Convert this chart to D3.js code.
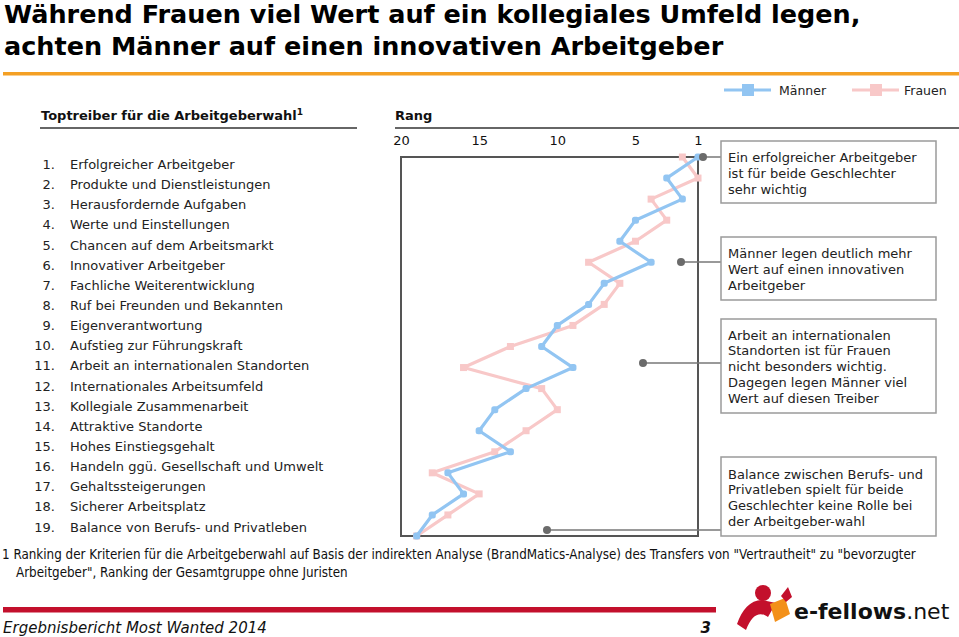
<!DOCTYPE html>
<html>
<head>
<meta charset="utf-8">
<script src="https://cdnjs.cloudflare.com/ajax/libs/d3/7.8.5/d3.min.js"></script>
<style>
  body { margin: 0; background: #fff; }
  svg { display: block; font-family: "DejaVu Sans", Verdana, sans-serif; }
</style>
</head>
<body>
<script>
// Kriterien (Gesamtranking)
var drivers = [
  "Erfolgreicher Arbeitgeber", "Produkte und Dienstleistungen", "Herausfordernde Aufgaben",
  "Werte und Einstellungen", "Chancen auf dem Arbeitsmarkt", "Innovativer Arbeitgeber",
  "Fachliche Weiterentwicklung", "Ruf bei Freunden und Bekannten", "Eigenverantwortung",
  "Aufstieg zur Führungskraft", "Arbeit an internationalen Standorten", "Internationales Arbeitsumfeld",
  "Kollegiale Zusammenarbeit", "Attraktive Standorte", "Hohes Einstiegsgehalt",
  "Handeln ggü. Gesellschaft und Umwelt", "Gehaltssteigerungen", "Sicherer Arbeitsplatz",
  "Balance von Berufs- und Privatleben"
];

// Rang je Geschlecht
var rankMaenner = [1, 3, 2, 5, 6, 4, 7, 8, 10, 11, 9, 12, 14, 15, 13, 17, 16, 18, 19];
var rankFrauen  = [2, 1, 4, 3, 5, 8, 6, 7, 9, 13, 16, 11, 10, 12, 14, 18, 15, 17, 19];

var rankTicks = [20, 15, 10, 5, 1];

var seriesNames = ["Männer", "Frauen"];

// Kommentare
var notes = [
  ["Ein erfolgreicher Arbeitgeber", "ist für beide Geschlechter", "sehr wichtig"],
  ["Männer legen deutlich mehr", "Wert auf einen innovativen", "Arbeitgeber"],
  ["Arbeit an internationalen", "Standorten ist für Frauen", "nicht besonders wichtig.", "Dagegen legen Männer viel", "Wert auf diesen Treiber"],
  ["Balance zwischen Berufs- und", "Privatleben spielt für beide", "Geschlechter keine Rolle bei", "der Arbeitgeber-wahl"]
];

var footnote = [
  "1 Ranking der Kriterien für die Arbeitgeberwahl auf Basis der indirekten Analyse (BrandMatics-Analyse) des Transfers von \"Vertrautheit\" zu \"bevorzugter",
  "Arbeitgeber\", Ranking der Gesamtgruppe ohne Juristen"
];

var width = 959,
    height = 637;

var colMaenner = "#92c5f2",
    colFrauen = "#f8c8c8";

var svg = d3.select("body")
    .append("svg")
    .attr("width", width)
    .attr("height", height);

// Titel
svg.append("text")
    .attr("x", 4).attr("y", 23)
    .attr("font-size", 25.5).attr("font-weight", "bold").attr("fill", "#000")
    .text("Während Frauen viel Wert auf ein kollegiales Umfeld legen,");
svg.append("text")
    .attr("x", 4).attr("y", 55)
    .attr("font-size", 25.5).attr("font-weight", "bold").attr("fill", "#000")
    .text("achten Männer auf einen innovativen Arbeitgeber");

svg.append("rect")
    .attr("x", 3).attr("y", 72).attr("width", width - 3).attr("height", 3.5)
    .attr("fill", "#f4a024");

// Legende
var legend = svg.append("g").attr("class", "legend");
var legendPos = [[724, 779], [852, 904]];
seriesNames.forEach(function(name, i) {
    var c = i == 0 ? colMaenner : colFrauen;
    var p = legendPos[i];
    legend.append("line")
        .attr("x1", p[0]).attr("x2", p[0] + 47)
        .attr("y1", 90).attr("y2", 90)
        .attr("stroke", c).attr("stroke-width", 3);
    legend.append("rect")
        .attr("x", p[0] + 18).attr("y", 84).attr("width", 12).attr("height", 12)
        .attr("fill", c);
    legend.append("text")
        .attr("x", p[1]).attr("y", 95)
        .attr("font-size", 12.5).attr("fill", "#222")
        .text(name);
});

// Spaltenkoepfe
var head = svg.append("text")
    .attr("x", 41).attr("y", 120)
    .attr("font-size", 13).attr("font-weight", "bold").attr("fill", "#111")
    .text("Toptreiber für die Arbeitgeberwahl");
head.append("tspan")
    .attr("font-size", 9).attr("dy", -5).text("1");
svg.append("line")
    .attr("x1", 40).attr("x2", 357).attr("y1", 128).attr("y2", 128)
    .attr("stroke", "#666").attr("stroke-width", 2);

svg.append("text")
    .attr("x", 395).attr("y", 120)
    .attr("font-size", 13).attr("font-weight", "bold").attr("fill", "#111")
    .text("Rang");
svg.append("line")
    .attr("x1", 395).attr("x2", width).attr("y1", 128).attr("y2", 128)
    .attr("stroke", "#666").attr("stroke-width", 2);

// Liste der Treiber
var listY = d3.scalePoint()
    .domain(d3.range(drivers.length))
    .range([169, 531.5]);

var list = svg.append("g").attr("font-size", 13).attr("fill", "#222");
list.selectAll("text.num")
    .data(drivers)
    .enter().append("text")
        .attr("class", "num")
        .attr("x", 55)
        .attr("y", function(d, i) { return listY(i); })
        .attr("text-anchor", "end")
        .text(function(d, i) { return (i + 1) + "."; });
list.selectAll("text.lab")
    .data(drivers)
    .enter().append("text")
        .attr("class", "lab")
        .attr("x", 70)
        .attr("y", function(d, i) { return listY(i); })
        .text(function(d) { return d; });

// Rang-Diagramm
var x = d3.scaleLinear()
    .domain([20, 1])
    .range([401, 698]);

var y = d3.scalePoint()
    .domain(d3.range(drivers.length))
    .range([157, 536]);

svg.append("g")
    .attr("transform", "translate(0,148)")
    .call(d3.axisTop(x).tickValues(rankTicks).tickSize(0).tickFormat(d3.format("d")))
    .call(function(g) { g.select(".domain").remove(); })
    .selectAll("text")
        .attr("font-family", "DejaVu Sans, Verdana, sans-serif")
        .attr("font-size", 13)
        .attr("fill", "#111")
        .attr("dy", 0);

svg.append("rect")
    .attr("x", x(20)).attr("y", y(0))
    .attr("width", x(1) - x(20)).attr("height", y(drivers.length - 1) - y(0))
    .attr("fill", "none").attr("stroke", "#555").attr("stroke-width", 2);

// Kommentar-Verbinder
var notePos = [
    {dot: [703, 157], box: [141, 203], base: 162},
    {dot: [681, 262], box: [237, 300], base: 258},
    {dot: [643, 363], box: [319, 413], base: 339.5},
    {dot: [547, 530], box: [457, 536], base: 478.5}
];

notePos.forEach(function(p, i) {
    svg.append("line")
        .attr("x1", p.dot[0]).attr("x2", 721)
        .attr("y1", p.dot[1]).attr("y2", p.dot[1])
        .attr("stroke", "#777").attr("stroke-width", 1.5);
});

var line = d3.line()
    .x(function(d) { return x(d); })
    .y(function(d, i) { return y(i); });

[[rankFrauen, colFrauen], [rankMaenner, colMaenner]].forEach(function(s) {
    svg.append("path")
        .datum(s[0])
        .attr("fill", "none")
        .attr("stroke", s[1])
        .attr("stroke-width", 3.2)
        .attr("stroke-linejoin", "round")
        .attr("d", line);
    svg.append("g")
        .selectAll("rect")
        .data(s[0])
        .enter().append("rect")
            .attr("x", function(d) { return x(d) - 3.5; })
            .attr("y", function(d, i) { return y(i) - 3.5; })
            .attr("width", 7).attr("height", 7)
            .attr("rx", s[1] == colMaenner ? 2.5 : 0)
            .attr("fill", s[1]);
});

notePos.forEach(function(p, i) {
    svg.append("circle")
        .attr("cx", p.dot[0]).attr("cy", p.dot[1]).attr("r", 4)
        .attr("fill", "#6b6b6b");
    svg.append("rect")
        .attr("x", 721).attr("y", p.box[0])
        .attr("width", 215).attr("height", p.box[1] - p.box[0])
        .attr("fill", "#fff").attr("stroke", "#9a9a9a").attr("stroke-width", 1.5);
    svg.append("g").selectAll("text")
        .data(notes[i])
        .enter().append("text")
            .attr("x", 728)
            .attr("y", function(d, j) { return p.base + j * 15.8; })
            .attr("font-size", 13).attr("fill", "#222")
            .text(function(d) { return d; });
});

// Fussnote
svg.append("g").selectAll("text")
    .data(footnote)
    .enter().append("text")
        .attr("x", function(d, i) { return i == 0 ? 2 : 16; })
        .attr("y", function(d, i) { return 559 + i * 18; })
        .attr("font-family", "DejaVu Sans Condensed, DejaVu Sans, sans-serif")
        .attr("font-size", 13.3).attr("fill", "#111")
        .text(function(d) { return d; });

// Fusszeile
svg.append("rect")
    .attr("x", 3).attr("y", 607).attr("width", 713).attr("height", 5.5)
    .attr("fill", "#c3102c");
svg.append("text")
    .attr("x", 3).attr("y", 633)
    .attr("font-size", 15).attr("font-style", "italic").attr("fill", "#111")
    .text("Ergebnisbericht Most Wanted 2014");
svg.append("text")
    .attr("x", 711).attr("y", 633)
    .attr("text-anchor", "end")
    .attr("font-size", 15).attr("font-style", "italic").attr("font-weight", "bold").attr("fill", "#111")
    .text("3");

// Logo
var logo = svg.append("g");
logo.append("path")
    .attr("d", "M737,624 C742,610 750,600 762,600 L776,603 L768,617 C760,611 752,614 746,630 Z")
    .attr("fill", "#c3102c");
logo.append("circle")
    .attr("cx", 763).attr("cy", 593).attr("r", 8)
    .attr("fill", "#c3102c");
logo.append("path")
    .attr("d", "M770,604 L785,598 L790,614 L775,622 Z")
    .attr("fill", "#f39019");
logo.append("path")
    .attr("d", "M781,596 L788,587 L792,597 L786,602 Z")
    .attr("fill", "#c3102c");
var lt = logo.append("text")
    .attr("x", 794).attr("y", 619)
    .attr("font-size", 22).attr("fill", "#111");
lt.append("tspan").attr("font-weight", "bold").text("e-fellows");
lt.append("tspan").text(".net");
</script>
</body>
</html>
